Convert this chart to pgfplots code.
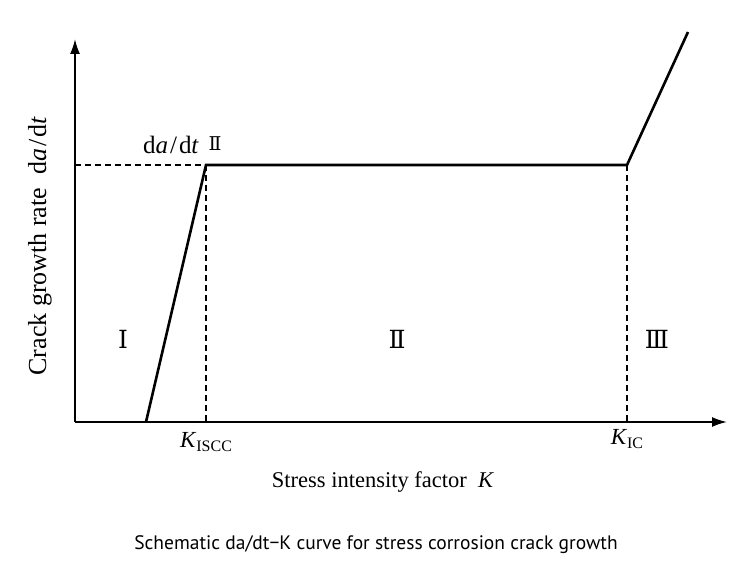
\documentclass[border=0pt]{standalone}
\usepackage{pgfplots}
\pgfplotsset{compat=1.18}
\usetikzlibrary{arrows.meta}
\usepackage{fontspec}
\setmainfont{Liberation Serif}
\newfontfamily\capfont{PT Sans}
\newfontfamily\rn{DejaVu Serif}

\newcommand{\dadt}{d\textit{a}\kern0.08em/\kern0.08em d\textit{t}}

\begin{document}
\begin{tikzpicture}
  % canvas: 1pt = 1px of the reference, origin of the axes at px (75,422)
  \useasboundingbox (-75pt,-150pt) rectangle (675pt,422pt);
  \begin{axis}[
    at={(0pt,0pt)}, anchor=origin,
    scale only axis,
    width=652pt, height=383pt,
    xmin=0, xmax=652, ymin=0, ymax=383,
    axis x line=bottom, axis y line=left,
    axis line style={line width=1.8pt, -{Latex[length=15pt,width=10pt]}},
    xtick=\empty, ytick=\empty,
    clip=false,
  ]
    % guide lines
    \addplot[black, line width=1.3pt, dash pattern=on 6pt off 4pt]
      coordinates {(0,257) (131,257)};
    \addplot[black, line width=1.3pt, dash pattern=on 6pt off 4pt]
      coordinates {(131,257) (131,0)};
    \addplot[black, line width=1.3pt, dash pattern=on 6pt off 4pt]
      coordinates {(552,257) (552,0)};
    % da/dt - K curve
    \addplot[black, line width=2.6pt, line join=miter]
      coordinates {(71,0) (131,257) (552,257) (613,390)};

    \node[font=\fontsize{25}{25}\selectfont] at (axis cs:96,277) {\dadt};
    \node[font=\rn\fontsize{19}{19}\selectfont] at (axis cs:140,278) {Ⅱ};
    \node[font=\rn\fontsize{25}{25}\selectfont] at (axis cs:48,83) {Ⅰ};
    \node[font=\rn\fontsize{25}{25}\selectfont] at (axis cs:322,83) {Ⅱ};
    \node[font=\rn\fontsize{25}{25}\selectfont] at (axis cs:582,83) {Ⅲ};

    \node[font=\fontsize{23}{23}\selectfont] at (axis cs:131,-20)
      {\textit{K}\raisebox{-0.35ex}{\fontsize{16}{16}\selectfont ISCC}};
    \node[font=\fontsize{23}{23}\selectfont] at (axis cs:552,-17)
      {\textit{K}\raisebox{-0.35ex}{\fontsize{16}{16}\selectfont IC}};

    \node[font=\fontsize{22.5}{22.5}\selectfont] at (axis cs:308,-60)
      {Stress intensity factor\ \ \textit{K}};
    \node[font=\fontsize{26}{26}\selectfont, rotate=90] at (axis cs:-35,176)
      {Crack growth rate\ \ \dadt};

    \node[font=\capfont\fontsize{19.5}{19.5}\selectfont] at (axis cs:301,-123)
      {Schematic da/dt−K curve for stress corrosion crack growth};
  \end{axis}
\end{tikzpicture}
\end{document}
